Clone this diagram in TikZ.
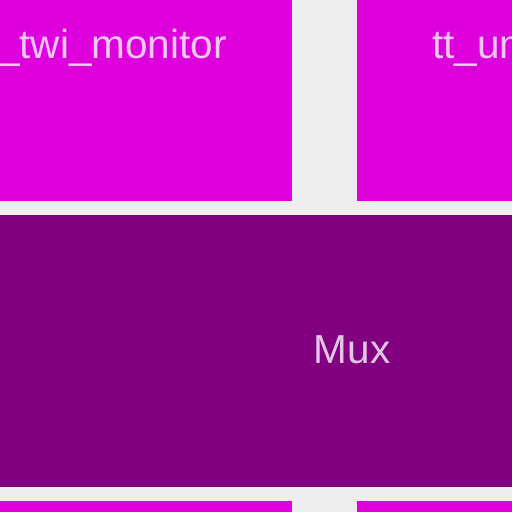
\documentclass[tikz,border=0pt]{standalone}
\usepackage{fontspec}
\setmainfont{Liberation Sans}
\definecolor{bgrey}{HTML}{EEEEEE}
\definecolor{mag}{HTML}{DD00DD}
\definecolor{purp}{HTML}{800080}
\definecolor{magtxt}{HTML}{F6C6F6}
\definecolor{purptxt}{HTML}{E4C4E4}
\tikzset{
  lbl/.style={inner sep=0pt, font=\fontsize{40.5}{44}\selectfont},
}
\begin{document}
\begin{tikzpicture}[x=1pt,y=-1pt]
\useasboundingbox (0,0) rectangle (512,512);
\clip (0,0) rectangle (512,512);
\fill[bgrey] (0,0) rectangle (512,512);
\fill[mag] (-10,-10) rectangle (292,201);
\fill[mag] (357,-10) rectangle (520,201);
\fill[purp] (-10,215) rectangle (520,487);
\fill[mag] (-10,501) rectangle (292,520);
\fill[mag] (357,501) rectangle (520,520);
\node[lbl, text=magtxt, anchor=base east] (twi) at (227,58) {\_twi\_monitor};
\node[lbl, text=magtxt, anchor=base west] (ttum) at (432,58) {tt\_um};
\node[lbl, text=purptxt, anchor=base] (mux) at (352,363) {Mux};
\end{tikzpicture}
\end{document}
